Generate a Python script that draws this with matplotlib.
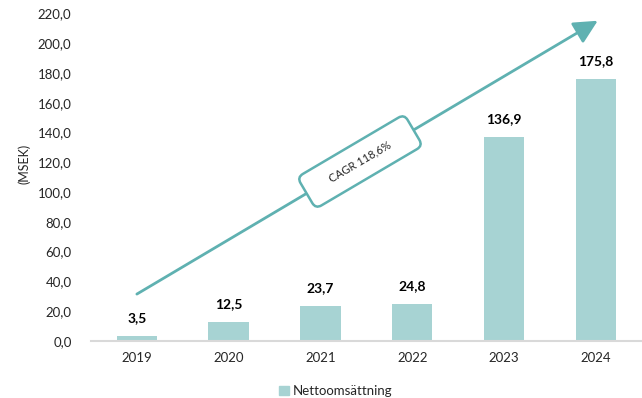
import matplotlib
matplotlib.use("Agg")
import matplotlib.pyplot as plt
import numpy as np

# Nettoomsättning per år (MSEK)
years = ["2019", "2020", "2021", "2022", "2023", "2024"]
sales = [3.5, 12.5, 23.7, 24.8, 136.9, 175.8]
y_ticks = [0, 20, 40, 60, 80, 100, 120, 140, 160, 180, 200, 220]
cagr_text = "CAGR 118,6%"

BAR = "#a7d3d3"
TEAL = "#5fb1b1"
TXT = "#262626"

plt.rcParams["font.family"] = ["Lato", "DejaVu Sans"]

fig = plt.figure(figsize=(6.42, 3.98), dpi=100)
ax = fig.add_axes([0.1417, 0.1432, 0.858, 0.8234])

x = np.arange(len(years))
ax.bar(x, sales, width=0.44, color=BAR, zorder=2)

for xi, v in zip(x, sales):
    label = f"{v:.1f}".replace(".", ",")
    ax.annotate(label, (xi, v), xytext=(0, 13), textcoords="offset points",
                ha="center", va="center", fontsize=10, fontweight="bold", color="black")

ax.set_xlim(-0.5, 5.5)
ax.set_ylim(0, 220)
ax.set_yticks(y_ticks)
ax.set_yticklabels([f"{t:.1f}".replace(".", ",") for t in y_ticks])
ax.set_xticks(x)
ax.set_xticklabels(years)
ax.tick_params(axis="both", length=0, labelsize=9.5, colors=TXT)
ax.tick_params(axis="y", pad=14)
ax.tick_params(axis="x", pad=8)

for s in ["top", "right", "left"]:
    ax.spines[s].set_visible(False)
ax.spines["bottom"].set_color("#d9d9d9")
ax.spines["bottom"].set_linewidth(1.5)

ax.set_ylabel("(MSEK)", fontsize=9, color=TXT)
ax.yaxis.set_label_coords(-0.11, 0.54)

# growth arrow
ax.annotate("", xy=(5.02, 215), xytext=(0, 31.5),
            arrowprops=dict(arrowstyle="-|>,head_length=0.9,head_width=0.45",
                            color=TEAL, lw=2, mutation_scale=16,
                            shrinkA=0, shrinkB=0), zorder=3)

ax.text(2.43, 120.5, "     " + cagr_text + "     ", rotation=30.5, rotation_mode="anchor",
        ha="center", va="center", fontsize=8, color=TXT, zorder=4,
        bbox=dict(boxstyle="round,pad=1.15,rounding_size=0.6", fc="white",
                  ec=TEAL, lw=1.8))

handle = plt.Rectangle((0, 0), 1, 1, color=BAR)
fig.legend([handle], ["Nettoomsättning"], loc="center", bbox_to_anchor=(0.523, 0.018),
           frameon=False, fontsize=9.5, handlelength=0.7, handleheight=0.7,
           handletextpad=0.3, labelcolor=TXT)

fig.savefig("out.png", dpi=100)
